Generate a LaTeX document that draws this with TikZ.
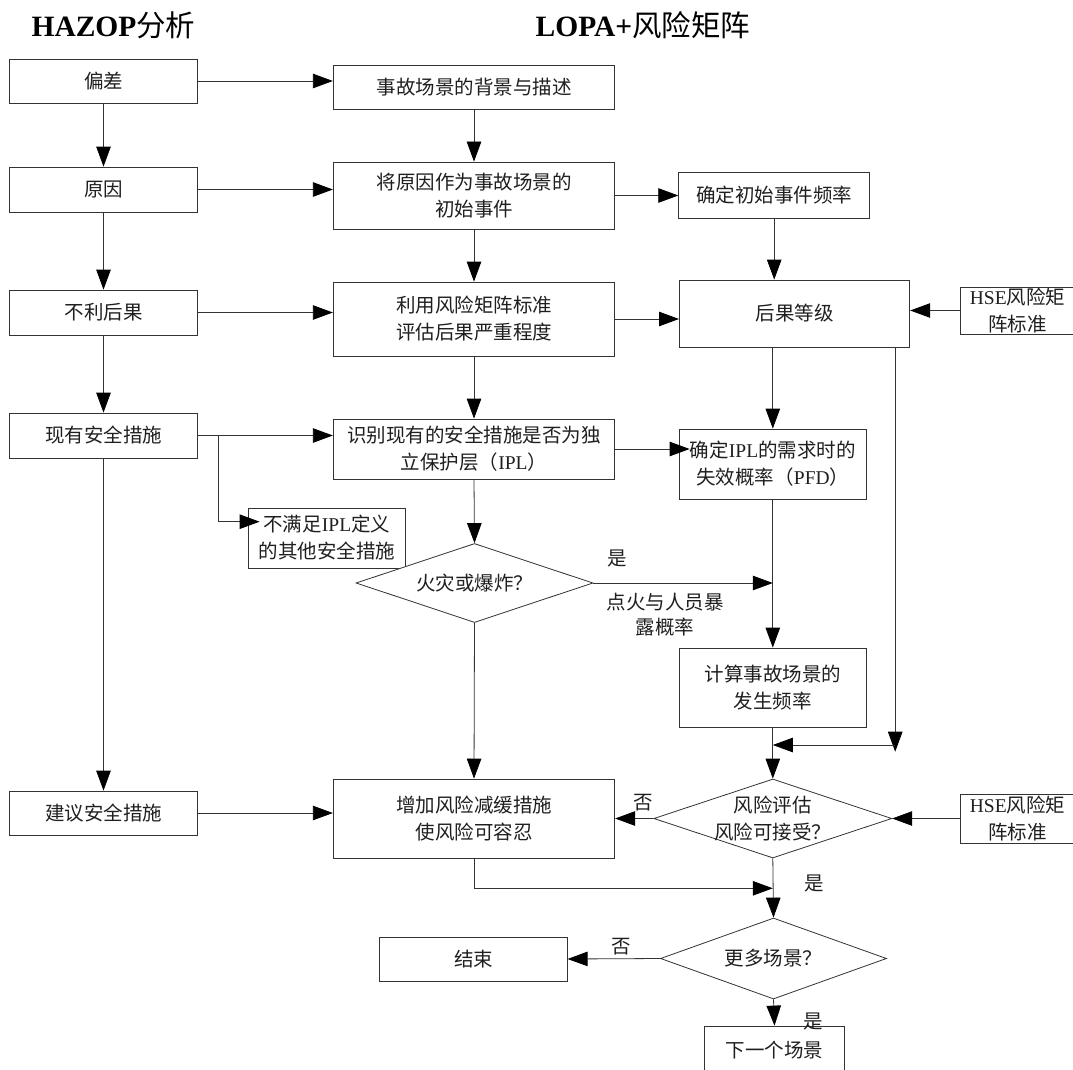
\documentclass[tikz,border=0pt]{standalone}
\usepackage{fontspec}
\setmainfont{Noto Sans CJK SC}
\newfontfamily\latin{Liberation Serif}
\usetikzlibrary{arrows.meta,shapes.geometric}

\newcommand{\lat}[1]{{\latin #1}}

\tikzset{
  base/.style={text=black!88, font=\fontsize{19.5}{27}\selectfont},
  box/.style={base, draw=black!80, line width=0.8pt, inner sep=0pt, align=center, fill=white},
  dia/.style={draw=black!80, line width=0.8pt, diamond, inner sep=0pt, fill=white},
  txt/.style={base, inner sep=0pt, align=center},
  lbl/.style={base, inner sep=0pt, align=center},
  ttl/.style={text=black, inner sep=0pt, font=\fontsize{29.5}{34}\selectfont},
  ln/.style={draw=black!80, line width=0.8pt},
  arr/.style={ln, -{Triangle[length=20pt,width=14.5pt,color=black]}},
}

\begin{document}
\begin{tikzpicture}[x=1pt,y=-1pt]
\useasboundingbox (0,0) rectangle (1073,1070);
\fill[white] (0,0) rectangle (1073,1070);

% column headings
\node[ttl] (t1) at (113.5,25) {{\latin\bfseries HAZOP}分析};
\node[ttl] (t2) at (643,25) {{\latin\bfseries LOPA+}风险矩阵};

% HAZOP column
\node[box, minimum width=188pt, minimum height=44pt] (dev)   at (103.5,81)    {偏差};
\node[box, minimum width=188pt, minimum height=45pt] (cause) at (103.5,189.5)  {原因};
\node[box, minimum width=188pt, minimum height=45pt] (cons)  at (103.5,312.5)  {不利后果};
\node[box, minimum width=188pt, minimum height=45pt] (exist) at (103.5,435.5)  {现有安全措施};
\node[box, minimum width=188pt, minimum height=44pt] (sugg)  at (103.5,813)    {建议安全措施};

% LOPA column
\node[box, minimum width=281.5pt, minimum height=44pt] (bg)    at (474,87)    {事故场景的背景与描述};
\node[box, minimum width=281.5pt, minimum height=67pt] (init)  at (474,195.5) {将原因作为事故场景的\\初始事件};
\node[box, minimum width=281.5pt, minimum height=74pt] (eval)  at (474,319)   {利用风险矩阵标准\\评估后果严重程度};
\node[box, minimum width=281.5pt, minimum height=60pt] (ident) at (474,449)   {识别现有的安全措施是否为独\\立保护层（\lat{IPL}）};
\node[box, minimum width=157.6pt, minimum height=60pt] (other) at (326.8,538) {不满足\lat{IPL}定义\\的其他安全措施};
\node[box, minimum width=281.5pt, minimum height=79pt] (add)   at (474,818.5) {增加风险减缓措施\\使风险可容忍};
\node[box, minimum width=187.4pt, minimum height=44pt] (endn)  at (473.5,959) {结束};

\node[dia, minimum width=237pt, minimum height=79pt] (fire) at (474.5,583) {};
\node[txt] (firet) at (fire) {火灾或爆炸？};

% frequency / risk column
\node[box, minimum width=191pt,   minimum height=46pt] (freq)  at (774.2,195)   {确定初始事件频率};
\node[box, minimum width=230.4pt, minimum height=67pt] (level) at (794.6,313.5) {后果等级};
\node[box, minimum width=187.6pt, minimum height=70pt] (pfd)   at (772.8,464)   {确定\lat{IPL}的需求时的\\失效概率（\lat{PFD}）};
\node[box, minimum width=187.6pt, minimum height=79pt] (calc)  at (772.8,687.5) {计算事故场景的\\发生频率};
\node[box, minimum width=113.6pt, minimum height=47pt] (hse1)  at (1017.5,310.5) {\lat{HSE}风险矩\\阵标准};
\node[box, minimum width=113.6pt, minimum height=49pt] (hse2)  at (1017.5,818.5) {\lat{HSE}风险矩\\阵标准};
\node[box, minimum width=140pt,   minimum height=48pt] (next)  at (774.5,1050)  {下一个场景};

\node[dia, minimum width=238pt, minimum height=79pt] (risk) at (772.8,818.5) {};
\node[txt] (riskt) at (risk) {风险评估\\风险可接受？};
\node[dia, minimum width=226pt, minimum height=81pt] (more) at (773.5,958.5) {};
\node[txt] (moret) at (more) {更多场景？};

% branch labels
\node[lbl] (yes1) at (617,558)     {是};
\node[lbl, font=\fontsize{19.5}{25.5}\selectfont] (ign) at (665,614.5) {点火与人员暴\\露概率};
\node[lbl] (no1)  at (643.7,803)   {否};
\node[lbl] (yes2) at (814.6,883)   {是};
\node[lbl] (no2)  at (620.9,947)   {否};
\node[lbl] (yes3) at (813.3,1021.7) {是};

% routing points
\coordinate (br)  at (218.7,435.5);
\coordinate (brk) at (218.7,521.7);
\coordinate (rx)  at (895.2,0);
\coordinate (mrg) at (0,745);
\coordinate (bot) at (0,751.7);
\coordinate (jn)  at (0,888.3);

% HAZOP to LOPA
\draw[arr] (dev.east) -- (dev.east -| bg.west);
\draw[arr] (cause.east) -- (cause.east -| init.west);
\draw[arr] (cons.east) -- (cons.east -| eval.west);
\draw[arr] (exist.east) -- (exist.east -| ident.west);
\draw[arr, shorten >=-12pt] (br) -- (brk) -- (other.west |- brk);
\draw[arr] (sugg.east) -- (sugg.east -| add.west);

% HAZOP column
\draw[arr] (dev) -- (cause);
\draw[arr] (cause) -- (cons);
\draw[arr] (cons) -- (exist);
\draw[arr] (exist) -- (sugg);

% LOPA column
\draw[arr] (bg) -- (init);
\draw[arr] (init) -- (eval);
\draw[arr] (eval) -- (ident);
\draw[arr] (ident.south) -- (fire.north);
\draw[arr] (fire.south) -- (add.north);
\draw[arr] (add.south) |- (risk.south |- jn);

% frequency / risk column
\draw[arr] (init.east) -- (init.east -| freq.west);
\draw[arr] (freq.south) -- (freq.south |- level.north);
\draw[arr] (eval.east) -- (eval.east -| level.west);
\draw[arr] (hse1.west) -- (hse1.west -| level.east);
\draw[arr] (pfd.north |- level.south) -- (pfd.north);
\draw[arr, shorten >=-11pt] (ident.east) -- (ident.east -| pfd.west);
\draw[arr] (pfd) -- (calc);
\draw[arr] (fire.east) -- (fire.east -| calc.north);
\draw[arr] (level.south -| rx) -- (rx |- bot);
\draw[arr] (rx |- mrg) -- (calc.south |- mrg);
\draw[arr] (calc.south) -- (risk.north);
\draw[arr] (risk.west) -- (add.east);
\draw[arr] (hse2.west) -- (risk.east);
\draw[arr] (risk.south) -- (more.north);
\draw[arr] (more.west) -- (endn.east);
\draw[arr] (more.south) -- (next.north);
\end{tikzpicture}
\end{document}
